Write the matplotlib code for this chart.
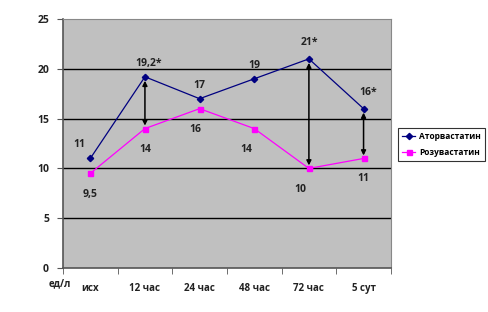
import numpy as np
import matplotlib
matplotlib.use("Agg")
import matplotlib.pyplot as plt

categories = ["исх", "12 час", "24 час", "48 час", "72 час", "5 сут"]
atorva = [11, 19.2, 17, 19, 21, 16]
rosuva = [9.5, 14, 16, 14, 10, 11]
atorva_labels = ["11", "19,2*", "17", "19", "21*", "16*"]
rosuva_labels = ["9,5", "14", "16", "14", "10", "11"]
arrow_idx = [1, 4, 5]

plt.rcParams["font.family"] = ["Open Sans", "DejaVu Sans"]
plt.rcParams["font.weight"] = "bold"

fig = plt.figure(figsize=(4.88, 3.12), dpi=100)
ax = fig.add_axes([0.129, 0.141, 0.672, 0.798])
ax.set_facecolor("#c0c0c0")

x = np.arange(len(categories))
ax.set_xlim(-0.5, len(categories) - 0.5)
ax.set_ylim(0, 25)
ax.set_yticks(range(0, 26, 5))
for yv in [5, 10, 15, 20]:
    ax.axhline(yv, color="black", lw=1.0, zorder=1)

ax.plot(x, atorva, color="#000080", lw=0.9, marker="D", ms=3.2, zorder=3, label="Аторвастатин")
ax.plot(x, rosuva, color="#ff00ff", lw=0.9, marker="s", ms=3.6, zorder=3, label="Розувастатин")

# double arrows between the series
for i in arrow_idx:
    ax.annotate("", xy=(x[i], rosuva[i] + 0.3), xytext=(x[i], atorva[i] - 0.4),
                arrowprops=dict(arrowstyle="<|-|>", color="black", lw=1.1,
                                mutation_scale=7, shrinkA=0, shrinkB=0), zorder=4)

txt = dict(fontsize=7.5, color="#222222", ha="center", fontweight="bold")
a_off = [(-8, 8), (3, 8), (0, 8), (0, 8), (0, 10), (3, 10)]
r_off = [(0, -17), (0, -17), (-3, -17), (-6, -17), (-6, -17), (0, -16)]
for i in range(len(x)):
    ax.annotate(atorva_labels[i], (x[i], atorva[i]), xytext=a_off[i], textcoords="offset points", **txt)
    ax.annotate(rosuva_labels[i], (x[i], rosuva[i]), xytext=r_off[i], textcoords="offset points", **txt)

ax.set_xticks(x)
ax.set_xticklabels(categories, fontsize=7, color="#222222", fontweight="bold")
ax.tick_params(axis="x", which="major", length=0, pad=11)
ax.set_xticks(np.arange(-0.5, len(categories), 1), minor=True)
ax.tick_params(axis="x", which="minor", length=4, color="#555555", direction="out")
ax.tick_params(axis="y", labelsize=7.5, colors="#222222", length=4, color="#555555", pad=6)
ax.text(-0.01, -0.065, "ед/л", transform=ax.transAxes, ha="center", va="center",
        fontsize=7, color="#222222", fontweight="bold")

for s in ["left", "bottom"]:
    ax.spines[s].set_color("#555555")
    ax.spines[s].set_linewidth(1.2)
for s in ["top", "right"]:
    ax.spines[s].set_color("#888888")
    ax.spines[s].set_linewidth(0.8)

leg = fig.legend(loc="upper left", bbox_to_anchor=(0.812, 0.595), fontsize=6,
                 frameon=True, fancybox=False, edgecolor="black", handlelength=1.6,
                 handletextpad=0.4, borderpad=0.5, labelspacing=0.8, borderaxespad=0.2)
leg.get_frame().set_linewidth(0.8)

fig.savefig("out.png", dpi=100, facecolor="white")
